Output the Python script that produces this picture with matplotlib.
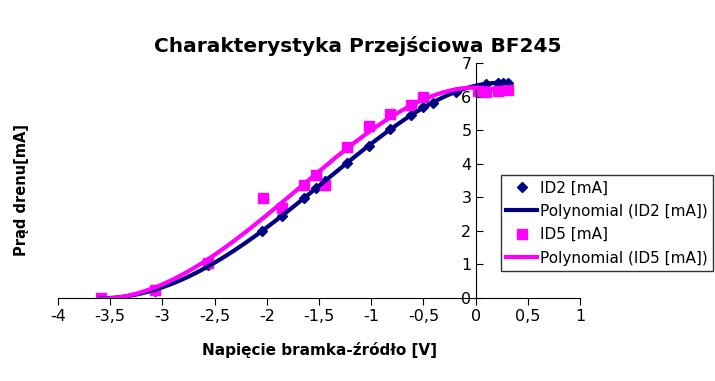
import numpy as np
import matplotlib
matplotlib.use("Agg")
import matplotlib.pyplot as plt
from matplotlib.ticker import FuncFormatter

# dane
ugs_id2 = [-3.59, -3.07, -2.56, -2.05, -1.85, -1.64, -1.53, -1.44, -1.23, -1.02,
           -0.82, -0.62, -0.50, -0.41, -0.19, 0.10, 0.21, 0.26, 0.31]
id2 = [0.0, 0.22, 0.98, 1.99, 2.44, 2.98, 3.27, 3.49, 4.03, 4.52,
       5.02, 5.46, 5.70, 5.81, 6.13, 6.37, 6.41, 6.41, 6.41]

ugs_id5 = [-3.59, -3.07, -2.56, -2.04, -1.85, -1.64, -1.53, -1.44, -1.23, -1.02,
           -0.82, -0.62, -0.50, 0.02, 0.10, 0.21, 0.31]
id5 = [0.0, 0.25, 1.05, 2.98, 2.69, 3.38, 3.66, 3.38, 4.50, 5.13,
       5.49, 5.75, 6.00, 6.17, 6.14, 6.17, 6.21]

poly_order = 4

fig = plt.figure(figsize=(7.15, 3.81), dpi=100)
ax = fig.add_axes([58 / 715, 1 - 298 / 381, 522 / 715, 235 / 381])

for xs, ys, col, mk, ms, lab in [(ugs_id2, id2, "#000080", "D", 5, "ID2 [mA]"),
                                 (ugs_id5, id5, "#ff00ff", "s", 7, "ID5 [mA]")]:
    ax.plot(xs, ys, ls="none", marker=mk, ms=ms, color=col, label=lab, zorder=2)
    p = np.polyfit(xs, ys, poly_order)
    xx = np.linspace(min(xs), max(xs), 300)
    ax.plot(xx, np.polyval(p, xx), color=col, lw=3, label="Polynomial (%s)" % lab, zorder=3)

ax.set_xlim(-4, 1)
ax.set_ylim(0, 7)
ax.set_xticks(np.arange(-4, 1.01, 0.5))
ax.set_yticks(range(0, 8))
fmt = FuncFormatter(lambda v, pos: ("%g" % v).replace(".", ","))
ax.xaxis.set_major_formatter(fmt)

for s in ["top", "right"]:
    ax.spines[s].set_visible(False)
ax.spines["left"].set_position(("data", 0))
ax.spines["bottom"].set_position(("data", 0))
ax.tick_params(axis="x", direction="out", length=5, labelsize=11.5, pad=3)
ax.tick_params(axis="y", direction="in", length=5, labelsize=11.5, pad=3)

fig.text(0.5, 1 - 46 / 381, "Charakterystyka Przejściowa BF245", fontsize=14.5,
         fontweight="bold", ha="center", va="center")
ax.set_xlabel("Napięcie bramka-źródło [V]", fontsize=11, fontweight="bold", labelpad=13)
ax.set_ylabel("Prąd drenu[mA]", fontsize=10.5, fontweight="bold")
ax.yaxis.set_label_coords(-0.056, 0.46)

leg = ax.legend(loc="upper left", bbox_to_anchor=(501 / 715, 1 - 175 / 381),
                bbox_transform=fig.transFigure, fontsize=11, frameon=True,
                fancybox=False, edgecolor="black", handlelength=2.0,
                handletextpad=0.2, borderpad=0.35, labelspacing=0.55, borderaxespad=0)
leg.get_frame().set_linewidth(1)

fig.savefig("out.png", dpi=100)
